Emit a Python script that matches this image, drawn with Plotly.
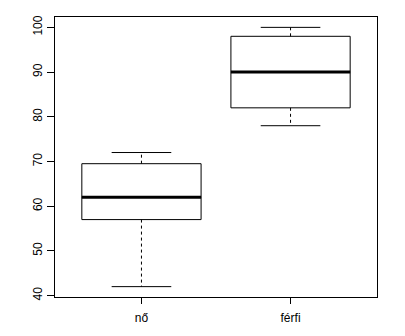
import plotly.graph_objects as go

groups = ["nő", "férfi"]
positions = [1, 2]
lower_whisker = [42, 78]
q1 = [57, 82]
median = [62, 90]
q3 = [69.5, 98]
upper_whisker = [72, 100]

box_width = 0.8
cap_width = 0.4

fig = go.Figure()

for i, g in enumerate(groups):
    p = positions[i]
    fig.add_trace(go.Box(
        x=[p], q1=[q1[i]], median=[median[i]], q3=[q3[i]],
        lowerfence=[q1[i]], upperfence=[q3[i]],
        width=box_width, whiskerwidth=0,
        fillcolor="white", line=dict(color="black", width=1),
        boxpoints=False, showlegend=False, hoverinfo="skip", name=g,
    ))
    # dashed whiskers
    fig.add_trace(go.Scatter(
        x=[p, p, None, p, p], y=[q3[i], upper_whisker[i], None, q1[i], lower_whisker[i]],
        mode="lines", line=dict(color="black", width=1, dash="3px,3px"),
        showlegend=False, hoverinfo="skip"))
    # caps
    fig.add_trace(go.Scatter(
        x=[p - cap_width / 2, p + cap_width / 2, None, p - cap_width / 2, p + cap_width / 2],
        y=[upper_whisker[i], upper_whisker[i], None, lower_whisker[i], lower_whisker[i]],
        mode="lines", line=dict(color="black", width=1),
        showlegend=False, hoverinfo="skip"))
    # thick median
    fig.add_trace(go.Scatter(
        x=[p - box_width / 2, p + box_width / 2], y=[median[i], median[i]],
        mode="lines", line=dict(color="black", width=3),
        showlegend=False, hoverinfo="skip"))

fig.update_layout(
    width=405, height=336,
    margin=dict(l=55, r=28, t=17, b=39),
    paper_bgcolor="white", plot_bgcolor="white",
    font=dict(family="Liberation Sans, Arial, sans-serif", size=12, color="black"),
    xaxis=dict(range=[0.42, 2.58], tickvals=positions, ticktext=groups,
               showgrid=False, zeroline=False, showline=True, mirror=True,
               linecolor="black", linewidth=1, ticks="outside", ticklen=6,
               tickcolor="black", ticklabelstandoff=4),
    yaxis=dict(range=[39.68, 102.32], tickvals=[40, 50, 60, 70, 80, 90, 100],
               tickangle=-90, showgrid=False, zeroline=False, showline=True,
               mirror=True, linecolor="black", linewidth=1, ticks="outside",
               ticklen=7, tickcolor="black"),
)

fig.write_html("out.html")
